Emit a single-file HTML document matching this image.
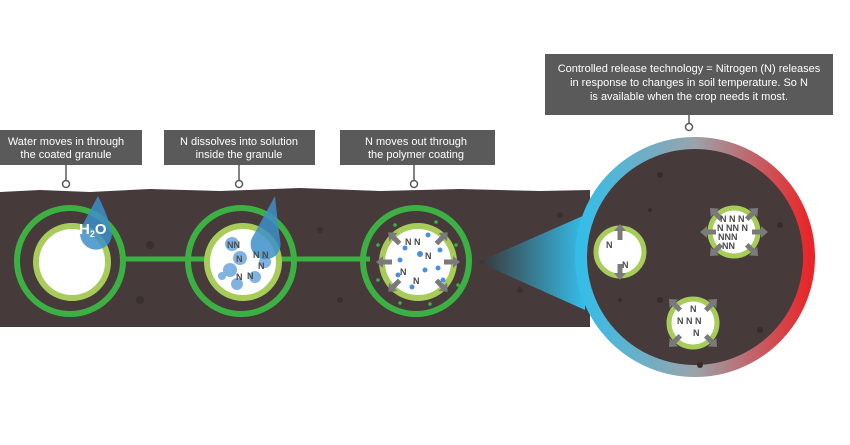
<!DOCTYPE html>
<html><head><style>body{margin:0;background:#fff;}svg{display:block}</style></head><body>
<svg width="850" height="445" xmlns="http://www.w3.org/2000/svg" font-family="Liberation Sans, sans-serif">
<defs>
<linearGradient id="rim" x1="0" y1="0" x2="1" y2="0"><stop offset="0" stop-color="#35bde8"/><stop offset="0.5" stop-color="#9aa3ab"/><stop offset="1" stop-color="#e8262a"/></linearGradient>
<linearGradient id="cone" x1="0" y1="0" x2="1" y2="0"><stop offset="0" stop-color="#3a3434"/><stop offset="1" stop-color="#35bde8"/></linearGradient>
<g id="arr"><rect x="-2.5" y="-14" width="5" height="10" fill="#7a7a7a"/><polygon points="-6,-13 6,-13 0,-20" fill="#7a7a7a"/></g>
</defs>
<path d="M0,192 L40,190 L90,192 L150,189 L220,191 L300,188 L380,191 L460,189 L540,191 L590,190 L590,327 L0,327Z" fill="#463a3a"/>
<g fill="#3a3030"><circle cx="150" cy="245" r="4"/><circle cx="320" cy="230" r="3"/><circle cx="520" cy="290" r="3"/><circle cx="140" cy="300" r="4"/><circle cx="340" cy="300" r="3"/><circle cx="560" cy="215" r="3"/></g>
<polygon points="478,262 585,215 585,310" fill="url(#cone)"/>
<line x1="120" y1="259" x2="370" y2="259" stroke="#3cb043" stroke-width="5"/>
<g fill="none" stroke="#3cb043" stroke-width="6"><circle cx="70" cy="261" r="53"/><circle cx="241" cy="261" r="53"/><circle cx="416" cy="261" r="53"/></g>
<g fill="#fff" stroke="#a8cc5a" stroke-width="6"><circle cx="72" cy="262" r="36"/><circle cx="243" cy="262" r="36"/><circle cx="418" cy="262" r="36"/></g>
<path d="M98,196 Q110,220 112,235 A16,16 0 1 1 82,226 Z" fill="#3d8fc8" opacity="0.85"/>
<text x="79" y="234" fill="#fff" font-size="15" font-weight="bold">H<tspan font-size="9" dy="3">2</tspan><tspan dy="-3">O</tspan></text>
<g fill="#6aa6dc" opacity="0.85"><circle cx="232" cy="244" r="7"/><circle cx="240" cy="258" r="7"/><circle cx="230" cy="270" r="7"/><circle cx="255" cy="277" r="6"/><circle cx="265" cy="262" r="6"/><circle cx="237" cy="284" r="6"/><circle cx="222" cy="276" r="4"/></g>
<path d="M275,196 Q278,225 280,240 A15,15 0 1 1 252,238 Z" fill="#3d8fc8" opacity="0.85"/>
<g fill="#4a4a4a" font-size="9" font-weight="bold"><text x="227" y="248">NN</text><text x="236" y="262">N</text><text x="253" y="258">N N</text><text x="258" y="269">N</text><text x="236" y="280">N</text><text x="247" y="279">N</text></g>
<g fill="#4a90e2"><circle cx="428" cy="235" r="2.5"/><circle cx="405" cy="248" r="2.5"/><circle cx="420" cy="254" r="3"/><circle cx="400" cy="260" r="2.5"/><circle cx="440" cy="250" r="2.5"/><circle cx="438" cy="268" r="2.5"/><circle cx="425" cy="270" r="2.5"/><circle cx="398" cy="275" r="2.5"/><circle cx="443" cy="280" r="2.5"/><circle cx="412" cy="287" r="2.5"/></g>
<g fill="#4a4a4a" font-size="9" font-weight="bold"><text x="405" y="245">N N</text><text x="425" y="259">N</text><text x="400" y="275">N</text><text x="413" y="284">N</text></g>
<g fill="#3cb043"><circle cx="395" cy="225" r="1.8"/><circle cx="436" cy="222" r="1.8"/><circle cx="378" cy="245" r="1.8"/><circle cx="456" cy="245" r="1.8"/><circle cx="378" cy="280" r="1.8"/><circle cx="458" cy="285" r="1.8"/><circle cx="400" cy="303" r="1.8"/><circle cx="430" cy="304" r="1.8"/></g>
<g><use href="#arr" transform="translate(418,262) rotate(-45) translate(0,-22)"/><use href="#arr" transform="translate(418,262) rotate(45) translate(0,-22)"/><use href="#arr" transform="translate(418,262) rotate(90) translate(0,-22)"/><use href="#arr" transform="translate(418,262) rotate(-90) translate(0,-22)"/><use href="#arr" transform="translate(418,262) rotate(135) translate(0,-22)"/><use href="#arr" transform="translate(418,262) rotate(-135) translate(0,-22)"/></g>
<circle cx="695" cy="257" r="114" fill="#463a3a" stroke="url(#rim)" stroke-width="12"/>
<g fill="#362c2c"><circle cx="660" cy="175" r="3"/><circle cx="650" cy="210" r="2"/><circle cx="780" cy="225" r="3"/><circle cx="660" cy="300" r="3"/><circle cx="760" cy="330" r="3"/><circle cx="700" cy="365" r="3"/><circle cx="620" cy="300" r="2"/></g>
<g fill="#fff" stroke="#a8cc5a" stroke-width="5"><circle cx="620" cy="252" r="24"/><circle cx="734" cy="232" r="24"/><circle cx="693" cy="323" r="24"/></g>
<g><use href="#arr" transform="translate(620,252) translate(0,-8)"/><use href="#arr" transform="translate(620,252) rotate(180) translate(0,-8)"/>
<use href="#arr" transform="translate(734,232) rotate(-45) translate(0,-14)"/><use href="#arr" transform="translate(734,232) rotate(45) translate(0,-14)"/><use href="#arr" transform="translate(734,232) rotate(90) translate(0,-14)"/><use href="#arr" transform="translate(734,232) rotate(-90) translate(0,-14)"/><use href="#arr" transform="translate(734,232) rotate(135) translate(0,-14)"/><use href="#arr" transform="translate(734,232) rotate(-135) translate(0,-14)"/>
<use href="#arr" transform="translate(693,323) rotate(-45) translate(0,-14)"/><use href="#arr" transform="translate(693,323) rotate(45) translate(0,-14)"/><use href="#arr" transform="translate(693,323) rotate(135) translate(0,-14)"/><use href="#arr" transform="translate(693,323) rotate(-135) translate(0,-14)"/></g>
<g fill="#4a4a4a" font-size="9" font-weight="bold"><text x="606" y="248">N</text><text x="622" y="268">N</text>
<text x="720" y="222">N N N</text><text x="717" y="231">N NN N</text><text x="718" y="240">NNN</text><text x="722" y="249">NN</text>
<text x="690" y="312">N</text><text x="677" y="324">N N N</text><text x="693" y="336">N</text></g>
<g fill="#5a5a5a"><rect x="0" y="130" width="142" height="35"/><rect x="164" y="130" width="151" height="35"/><rect x="340" y="130" width="155" height="35"/><rect x="545" y="54" width="288" height="61"/></g>
<g stroke="#5a5a5a" stroke-width="1.5" fill="#fff"><line x1="66" y1="165" x2="66" y2="181"/><circle cx="66" cy="184" r="3.5"/><line x1="239" y1="165" x2="239" y2="181"/><circle cx="239" cy="184" r="3.5"/><line x1="414" y1="165" x2="414" y2="181"/><circle cx="414" cy="184" r="3.5"/><line x1="689" y1="115" x2="689" y2="124"/><circle cx="689" cy="127" r="3.5"/></g>
<g fill="#fff" font-size="11" text-anchor="middle"><text x="66" y="145">Water moves in through</text><text x="66" y="158">the coated granule</text>
<text x="239" y="145">N dissolves into solution</text><text x="239" y="158">inside the granule</text>
<text x="416" y="145">N moves out through</text><text x="416" y="158">the polymer coating</text>
<text x="689" y="72">Controlled release technology = Nitrogen (N) releases</text><text x="689" y="86">in response to changes in soil temperature. So N</text><text x="689" y="100">is available when the crop needs it most.</text></g>
</svg>
</body></html>
